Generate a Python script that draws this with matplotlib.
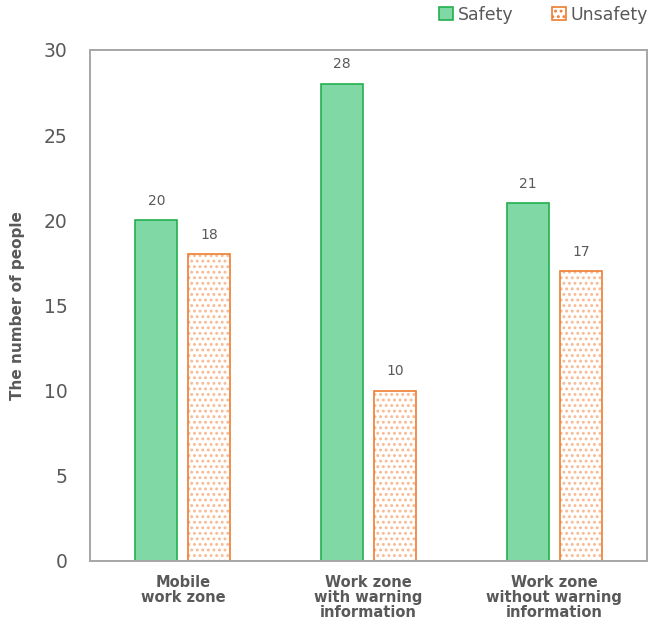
import matplotlib.pyplot as plt
import numpy as np

plt.rcParams["font.family"] = ["DejaVu Sans"]
plt.rcParams["hatch.linewidth"] = 1.3

categories = ["Mobile\nwork zone", "Work zone\nwith warning\ninformation", "Work zone\nwithout warning\ninformation"]
safety = [20, 28, 21]
unsafety = [18, 10, 17]
yticks = [0, 5, 10, 15, 20, 25, 30]

TEXT = "#595959"
GREEN_FACE = "#80D8A4"
GREEN_EDGE = "#22B04F"
ORANGE = "#F7BA92"
ORANGE_EDGE = "#EE7D31"

fig = plt.figure(figsize=(6.57, 6.24), dpi=100)
ax = fig.add_axes([0.137, 0.101, 0.848, 0.819])

x = np.arange(len(categories))
width = 0.226
off = 0.143

b1 = ax.bar(x - off, safety, width, color=GREEN_FACE, edgecolor=GREEN_EDGE, linewidth=1.2, label="Safety")
b2 = ax.bar(x + off, unsafety, width, color="white", edgecolor=ORANGE, hatch="...", linewidth=0, label="Unsafety")
# outline drawn separately so the hatch can stay lighter than the border
ax.bar(x + off, unsafety, width, color="none", edgecolor=ORANGE_EDGE, linewidth=1.2)

for bars, vals in [(b1, safety), (b2, unsafety)]:
    for bar, v in zip(bars, vals):
        ax.annotate(f"{v}", (bar.get_x() + bar.get_width() / 2, v), xytext=(0, 9),
                    textcoords="offset points", ha="center", va="bottom", fontsize=10, color=TEXT)

ax.set_xlim(-0.5, len(categories) - 0.5)
ax.set_ylim(0, 30)
ax.set_yticks(yticks)
ax.set_xticks(x)
ax.set_xticklabels(categories, fontsize=10.5, fontweight="bold", color=TEXT, linespacing=1.0)
ax.tick_params(axis="y", length=0, pad=16, labelsize=13.5, labelcolor=TEXT)
ax.tick_params(axis="x", length=0, pad=10)
ax.set_ylabel("The number of people", fontsize=11, fontweight="bold", color=TEXT, labelpad=14)

for s in ax.spines.values():
    s.set_color("#A6A6A6")
    s.set_linewidth(1.4)

leg_handles = [
    plt.Rectangle((0, 0), 1, 1, facecolor=GREEN_FACE, edgecolor=GREEN_EDGE, linewidth=1.2),
    plt.Rectangle((0, 0), 1, 1, facecolor="white", edgecolor=ORANGE_EDGE, hatch="...", linewidth=1.2),
]
fig.legend(leg_handles, ["Safety", "Unsafety"], loc="upper right", bbox_to_anchor=(1.0, 1.005),
           ncol=2, frameon=False, fontsize=12.5, handlelength=0.8, handleheight=0.8,
           handletextpad=0.3, columnspacing=2.2, labelcolor=TEXT, borderaxespad=0.1)

fig.savefig("out.png", dpi=100)
